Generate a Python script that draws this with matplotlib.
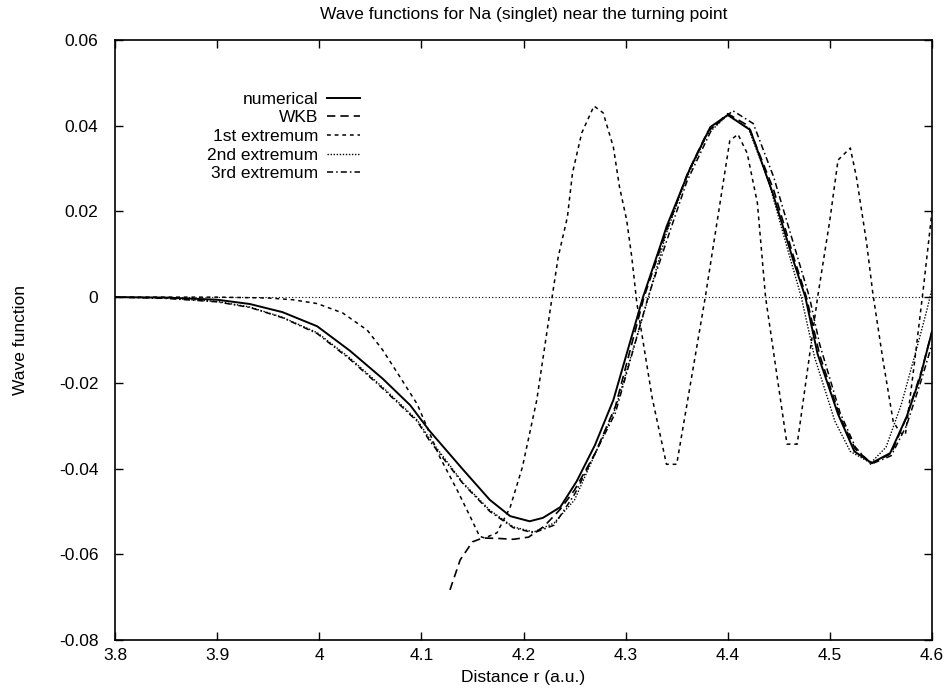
import matplotlib
matplotlib.use('Agg')
import matplotlib.pyplot as plt
import numpy as np

plt.rcParams['font.family'] = ['Liberation Sans', 'DejaVu Sans']
plt.rcParams['font.size'] = 12.5

# numerical solution
num_r = [3.80, 3.85, 3.90, 3.932, 3.964, 3.998, 4.030, 4.062, 4.089, 4.108, 4.141,
         4.167, 4.187, 4.206, 4.219, 4.236, 4.252, 4.270, 4.288, 4.317, 4.334,
         4.340, 4.363, 4.383, 4.400, 4.422, 4.444, 4.464, 4.476, 4.488, 4.508,
         4.524, 4.541, 4.559, 4.575, 4.588, 4.600]
num_psi = [0.0, -0.0001, -0.0006, -0.0016, -0.0035, -0.0068, -0.0125, -0.0190, -0.0252,
           -0.0312, -0.0403, -0.0473, -0.0511, -0.0523, -0.0515, -0.0490, -0.0430,
           -0.0345, -0.0240, 0.0, 0.0120, 0.0164, 0.0300, 0.0397, 0.0425, 0.0390,
           0.0243, 0.0087, 0.0, -0.0133, -0.0273, -0.0360, -0.0387, -0.0364,
           -0.0280, -0.0190, -0.0080]

# WKB approximation
wkb_r = [4.128, 4.138, 4.150, 4.160, 4.175, 4.190, 4.205, 4.220, 4.236, 4.250, 4.270,
         4.290, 4.318, 4.340, 4.360, 4.380, 4.400, 4.420, 4.445, 4.465, 4.477,
         4.490, 4.510, 4.525, 4.541, 4.560, 4.575, 4.590, 4.600]
wkb_psi = [-0.0683, -0.0613, -0.0571, -0.0562, -0.0563, -0.0565, -0.0560, -0.0535,
           -0.0495, -0.0450, -0.0365, -0.0255, 0.0, 0.0155, 0.0285, 0.0385, 0.0428,
           0.0400, 0.0250, 0.0090, 0.0, -0.0135, -0.0280, -0.0355, -0.0388, -0.0365,
           -0.0280, -0.0170, -0.0080]

# matched at 1st extremum
ex1_r = [3.80, 3.90, 3.95, 3.974, 3.998, 4.023, 4.047, 4.062, 4.079, 4.096, 4.118,
         4.135, 4.148, 4.157, 4.162, 4.174, 4.187, 4.199, 4.213, 4.228, 4.234, 4.243,
         4.248, 4.257, 4.269, 4.278, 4.288, 4.294, 4.301, 4.306, 4.311, 4.326, 4.340,
         4.350, 4.378, 4.402, 4.410, 4.419, 4.429, 4.437, 4.458, 4.468, 4.488, 4.500,
         4.508, 4.520, 4.526, 4.536, 4.542, 4.552, 4.562, 4.569, 4.574, 4.583, 4.592,
         4.600]
ex1_psi = [0.0, 0.0, -0.0002, -0.0006, -0.0015, -0.0037, -0.0077, -0.0123, -0.0186,
           -0.0250, -0.0373, -0.0450, -0.0513, -0.0558, -0.0562, -0.0550, -0.0490,
           -0.0396, -0.0240, 0.0, 0.0094, 0.0187, 0.0290, 0.0383, 0.0446, 0.0430,
           0.0350, 0.0257, 0.0180, 0.0094, -0.0014, -0.0235, -0.0390, -0.0390, 0.0,
           0.0365, 0.0380, 0.0336, 0.0220, 0.0, -0.0343, -0.0343, 0.0, 0.0180, 0.0320,
           0.0348, 0.0280, 0.0126, 0.0010, -0.0147, -0.0290, -0.0317, -0.0320,
           -0.0150, 0.0030, 0.0200]

# matched at 2nd extremum
ex2_r = [3.80, 3.85, 3.90, 3.932, 3.964, 3.998, 4.030, 4.062, 4.096, 4.108, 4.141,
         4.167, 4.190, 4.210, 4.230, 4.250, 4.290, 4.320, 4.340, 4.360, 4.380, 4.400,
         4.420, 4.440, 4.460, 4.472, 4.485, 4.505, 4.520, 4.540, 4.555, 4.570, 4.585,
         4.595, 4.600]
ex2_psi = [0.0, -0.0002, -0.0010, -0.0023, -0.0047, -0.0083, -0.0142, -0.0210, -0.0287,
           -0.0330, -0.0434, -0.0497, -0.0536, -0.0548, -0.0527, -0.0473, -0.0260,
           -0.0020, 0.0150, 0.0280, 0.0380, 0.0425, 0.0395, 0.0270, 0.0100, 0.0,
           -0.0140, -0.0290, -0.0360, -0.0387, -0.0350, -0.0250, -0.0120, -0.0030,
           0.0020]

# matched at 3rd extremum
ex3_r = [3.80, 3.85, 3.90, 3.932, 3.964, 3.998, 4.030, 4.062, 4.096, 4.108, 4.141,
         4.167, 4.190, 4.210, 4.230, 4.250, 4.290, 4.322, 4.340, 4.360, 4.385, 4.405,
         4.425, 4.445, 4.465, 4.480, 4.490, 4.510, 4.525, 4.540, 4.560, 4.575, 4.590,
         4.600]
ex3_psi = [0.0, -0.0003, -0.0011, -0.0024, -0.0048, -0.0085, -0.0145, -0.0213, -0.0290,
           -0.0335, -0.0436, -0.0500, -0.0538, -0.0550, -0.0532, -0.0460, -0.0270,
           0.0, 0.0130, 0.0270, 0.0395, 0.0435, 0.0405, 0.0280, 0.0120, 0.0, -0.0110,
           -0.0270, -0.0350, -0.0390, -0.0370, -0.0300, -0.0190, -0.0110]

x_ticks = [3.8, 3.9, 4.0, 4.1, 4.2, 4.3, 4.4, 4.5, 4.6]
x_labels = ['3.8', '3.9', '4', '4.1', '4.2', '4.3', '4.4', '4.5', '4.6']
y_ticks = [0.06, 0.04, 0.02, 0.0, -0.02, -0.04, -0.06, -0.08]
y_labels = ['0.06', '0.04', '0.02', '0', '-0.02', '-0.04', '-0.06', '-0.08']

fig = plt.figure(figsize=(9.48, 6.88), dpi=100)
ax = fig.add_axes([115 / 948, 1 - 640 / 688, 817 / 948, 600 / 688])

# gnuplot style zero axis
ax.axhline(0, color='black', lw=0.8, ls=(0, (1, 2)))

ax.plot(num_r, num_psi, color='black', lw=1.4, ls='-', label='numerical')
ax.plot(wkb_r, wkb_psi, color='black', lw=1.2, ls=(0, (5, 3)), label='WKB')
ax.plot(ex1_r, ex1_psi, color='black', lw=1.1, ls=(0, (2.5, 2.5)), label='1st extremum')
ax.plot(ex2_r, ex2_psi, color='black', lw=1.0, ls=(0, (1, 1.2)), label='2nd extremum')
ax.plot(ex3_r, ex3_psi, color='black', lw=1.1, ls=(0, (4, 2, 1, 2)), label='3rd extremum')

ax.set_xlim(3.8, 4.6)
ax.set_ylim(-0.08, 0.06)
ax.set_xticks(x_ticks)
ax.set_xticklabels(x_labels)
ax.set_yticks(y_ticks)
ax.set_yticklabels(y_labels)
ax.tick_params(direction='in', length=6, width=1, top=True, right=True)
ax.tick_params(axis='y', pad=12)
ax.tick_params(axis='x', pad=6)
for s in ax.spines.values():
    s.set_linewidth(1.2)

ax.set_title('Wave functions for Na (singlet) near the turning point', fontsize=12.5, pad=15)
ax.set_xlabel('Distance r (a.u.)', labelpad=5)
ax.set_ylabel('Wave function', labelpad=22)

ax.legend(loc='upper right', bbox_to_anchor=(0.30, 0.914), markerfirst=False,
          frameon=False, handlelength=1.9, handletextpad=0.5, labelspacing=0.2,
          borderpad=0, borderaxespad=0, fontsize=12.5)

fig.savefig('out.png', dpi=100)
